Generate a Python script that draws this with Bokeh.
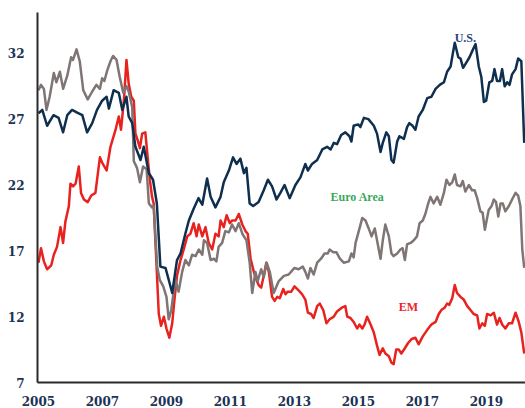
from bokeh.plotting import figure
from bokeh.models import Range1d, FixedTicker, ColumnDataSource
from bokeh.core.properties import value
from bokeh.embed import file_html
from bokeh.resources import INLINE

# ---- data (decimal years, value) ----
us_t = [2005.00, 2005.12, 2005.27, 2005.47, 2005.63, 2005.77, 2005.90, 2006.05, 2006.21, 2006.37,
        2006.52, 2006.68, 2006.83, 2006.99, 2007.13, 2007.20, 2007.35, 2007.51, 2007.62, 2007.75,
        2007.82, 2007.93, 2008.03, 2008.19, 2008.29, 2008.45, 2008.58, 2008.70, 2008.78, 2008.81,
        2008.97, 2009.07, 2009.18, 2009.33, 2009.44, 2009.59, 2009.70, 2009.85, 2010.00, 2010.12,
        2010.27, 2010.38, 2010.53, 2010.69, 2010.79, 2010.95, 2011.08, 2011.19, 2011.31, 2011.42,
        2011.50, 2011.60, 2011.71, 2011.88, 2012.04, 2012.17, 2012.30, 2012.44, 2012.56, 2012.69,
        2012.85, 2013.03, 2013.19, 2013.34, 2013.42, 2013.55, 2013.71, 2013.87, 2014.02, 2014.13,
        2014.23, 2014.33, 2014.46, 2014.59, 2014.72, 2014.78, 2014.85, 2014.99, 2015.06, 2015.17,
        2015.31, 2015.48, 2015.58, 2015.69, 2015.76, 2015.87, 2015.95, 2016.03, 2016.10, 2016.21,
        2016.28, 2016.42, 2016.52, 2016.59, 2016.69, 2016.78, 2016.88, 2017.01, 2017.15, 2017.28,
        2017.41, 2017.54, 2017.67, 2017.77, 2017.88, 2017.95, 2018.01, 2018.12, 2018.19, 2018.27,
        2018.37, 2018.47, 2018.58, 2018.66, 2018.76, 2018.84, 2018.92, 2018.99, 2019.09, 2019.18,
        2019.25, 2019.33, 2019.42, 2019.49, 2019.57, 2019.65, 2019.72, 2019.80, 2019.91, 2019.99,
        2020.09, 2020.18]
us_v = [27.45, 27.7, 26.5, 27.3, 27.1, 26.0, 27.3, 27.7, 27.5, 27.3,
        26.0, 26.7, 27.7, 28.4, 28.7, 27.8, 29.2, 29.0, 27.7, 28.7,
        27.2, 26.7, 24.9, 23.9, 24.9, 22.9, 22.4, 20.6, 17.1, 15.8,
        15.7, 14.8, 13.8, 16.3, 16.8, 18.3, 19.3, 20.2, 21.0, 20.5,
        22.5, 21.1, 20.3, 21.1, 22.2, 23.1, 24.1, 23.6, 24.0, 22.9,
        23.3, 20.6, 20.4, 20.7, 21.6, 22.4, 21.9, 20.9, 21.4, 22.0,
        21.0, 22.0, 22.6, 23.6, 23.1, 23.6, 23.9, 24.7, 24.9, 24.7,
        25.2, 25.1, 25.8, 26.0, 25.7, 25.3, 26.5, 26.6, 26.4, 27.1,
        27.0, 26.5, 25.9, 24.5, 25.2, 26.0, 25.7, 23.9, 23.7, 25.3,
        25.7, 25.5, 26.4, 26.7, 26.5, 26.2, 27.2, 27.7, 28.6, 28.7,
        29.3, 29.6, 29.8, 30.6, 31.0, 32.0, 32.8, 31.7, 31.6, 30.9,
        31.3, 31.7, 32.3, 32.7, 31.0, 30.2, 28.3, 28.4, 29.8, 29.9,
        30.8, 29.9, 29.9, 30.8, 29.5, 29.8, 29.6, 30.4, 30.8, 31.6,
        31.4, 25.2]

euro_t = [2005.00, 2005.08, 2005.17, 2005.25, 2005.35, 2005.48, 2005.56, 2005.67, 2005.77, 2005.90,
          2006.02, 2006.08, 2006.19, 2006.29, 2006.40, 2006.54, 2006.68, 2006.81, 2006.92, 2006.99,
          2007.06, 2007.15, 2007.25, 2007.33, 2007.44, 2007.54, 2007.65, 2007.75, 2007.82, 2007.93,
          2007.98, 2008.08, 2008.17, 2008.27, 2008.38, 2008.45, 2008.55, 2008.60, 2008.71, 2008.79,
          2008.90, 2009.00, 2009.07, 2009.15, 2009.23, 2009.28, 2009.38, 2009.49, 2009.59, 2009.70,
          2009.80, 2009.91, 2010.01, 2010.12, 2010.17, 2010.27, 2010.38, 2010.48, 2010.56, 2010.63,
          2010.74, 2010.84, 2010.95, 2011.05, 2011.16, 2011.26, 2011.37, 2011.50, 2011.60, 2011.68,
          2011.78, 2011.85, 2011.96, 2012.04, 2012.13, 2012.23, 2012.35, 2012.51, 2012.67, 2012.82,
          2013.00, 2013.13, 2013.26, 2013.34, 2013.42, 2013.50, 2013.60, 2013.71, 2013.83, 2013.94,
          2014.04, 2014.10, 2014.21, 2014.31, 2014.42, 2014.54, 2014.70, 2014.78, 2014.85, 2014.91,
          2015.01, 2015.12, 2015.22, 2015.32, 2015.41, 2015.51, 2015.58, 2015.69, 2015.76, 2015.84,
          2015.95, 2016.03, 2016.10, 2016.21, 2016.31, 2016.38, 2016.45, 2016.52, 2016.63, 2016.73,
          2016.83, 2016.91, 2017.01, 2017.09, 2017.18, 2017.25, 2017.35, 2017.46, 2017.56, 2017.67,
          2017.75, 2017.84, 2017.93, 2018.01, 2018.08, 2018.19, 2018.26, 2018.34, 2018.45, 2018.55,
          2018.63, 2018.71, 2018.81, 2018.88, 2018.95, 2019.02, 2019.07, 2019.16, 2019.23, 2019.30,
          2019.37, 2019.44, 2019.51, 2019.59, 2019.70, 2019.80, 2019.91, 2019.99, 2020.06, 2020.12,
          2020.18]
euro_v = [29.2, 29.6, 29.3, 27.7, 28.7, 30.5, 29.8, 30.6, 29.3, 30.3,
          31.7, 31.5, 32.3, 31.4, 29.2, 28.5, 29.1, 29.6, 29.3, 30.1,
          29.9, 30.7, 31.4, 31.8, 31.5, 30.2, 29.0, 29.5, 29.1, 27.9,
          23.8, 23.3, 22.2, 23.4, 23.2, 20.6, 20.3, 20.4, 15.8, 14.8,
          14.3, 13.5, 11.8, 12.5, 14.0, 14.8, 13.9, 15.4, 16.3, 15.9,
          16.7, 16.6, 17.1, 16.7, 17.8, 17.6, 16.3, 16.4, 16.2, 17.3,
          17.6, 18.5, 18.4, 19.0, 18.5, 19.1, 18.3, 17.8, 16.1, 13.8,
          15.4, 14.7, 15.6, 15.0, 16.1, 15.4, 13.8, 14.7, 15.1, 15.2,
          15.7, 15.6, 15.8, 15.4, 14.9, 15.7, 15.2, 16.1, 16.4, 16.8,
          16.8, 17.1, 16.9, 16.9, 16.4, 16.1, 16.2, 16.8, 16.5, 17.6,
          18.5, 19.5, 19.3, 18.7, 18.1, 18.7, 17.8, 16.4, 17.8, 19.0,
          18.1, 16.8, 16.6, 16.8, 17.1, 17.2, 16.3, 17.5, 17.6, 17.8,
          18.1, 19.1, 19.3, 19.8, 20.6, 21.1, 20.6, 21.1, 20.5, 21.4,
          22.4, 22.0, 22.2, 22.8, 22.0, 21.9, 22.3, 21.5, 22.0, 21.6,
          21.6, 21.0, 20.0, 19.9, 18.6, 19.5, 20.1, 20.4, 20.9, 20.7,
          19.6, 20.6, 20.6, 20.0, 20.4, 20.9, 21.4, 21.2, 20.4, 17.1,
          15.7]

em_t = [2005.00, 2005.08, 2005.17, 2005.27, 2005.40, 2005.48, 2005.58, 2005.69, 2005.77, 2005.84,
        2005.95, 2006.00, 2006.08, 2006.16, 2006.26, 2006.33, 2006.42, 2006.54, 2006.65, 2006.78,
        2006.92, 2006.99, 2007.13, 2007.25, 2007.41, 2007.51, 2007.58, 2007.67, 2007.75, 2007.82,
        2007.90, 2007.98, 2008.03, 2008.10, 2008.17, 2008.24, 2008.34, 2008.42, 2008.48, 2008.55,
        2008.60, 2008.76, 2008.83, 2008.92, 2009.00, 2009.09, 2009.18, 2009.25, 2009.33, 2009.44,
        2009.54, 2009.65, 2009.75, 2009.85, 2009.94, 2010.01, 2010.12, 2010.22, 2010.32, 2010.43,
        2010.53, 2010.63, 2010.69, 2010.79, 2010.88, 2010.98, 2011.05, 2011.16, 2011.26, 2011.37,
        2011.47, 2011.54, 2011.63, 2011.73, 2011.81, 2011.88, 2011.96, 2012.04, 2012.12, 2012.20,
        2012.30, 2012.38, 2012.46, 2012.54, 2012.65, 2012.72, 2012.79, 2012.90, 2013.00, 2013.13,
        2013.24, 2013.34, 2013.42, 2013.52, 2013.60, 2013.71, 2013.79, 2013.90, 2014.00, 2014.10,
        2014.23, 2014.33, 2014.49, 2014.59, 2014.65, 2014.75, 2014.85, 2014.96, 2015.03, 2015.12,
        2015.19, 2015.27, 2015.38, 2015.48, 2015.58, 2015.66, 2015.76, 2015.84, 2015.95, 2016.03,
        2016.10, 2016.18, 2016.26, 2016.34, 2016.45, 2016.55, 2016.66, 2016.78, 2016.88, 2017.01,
        2017.15, 2017.28, 2017.41, 2017.51, 2017.59, 2017.70, 2017.77, 2017.84, 2017.93, 2018.01,
        2018.08, 2018.19, 2018.29, 2018.40, 2018.50, 2018.60, 2018.71, 2018.78, 2018.87, 2018.95,
        2019.02, 2019.13, 2019.23, 2019.33, 2019.41, 2019.49, 2019.59, 2019.70, 2019.80, 2019.91,
        2020.01, 2020.09, 2020.18]
em_v = [16.1, 17.2, 16.2, 15.6, 15.9, 16.7, 17.3, 18.8, 17.6, 19.2,
        20.4, 22.1, 21.9, 22.1, 23.4, 21.4, 20.9, 20.7, 21.2, 21.4,
        24.1, 23.7, 23.1, 24.9, 26.2, 27.2, 26.2, 28.4, 31.5, 29.7,
        28.7, 28.4, 25.9, 25.4, 24.8, 25.9, 26.0, 23.9, 22.4, 21.1,
        20.6, 12.2, 11.3, 12.0, 11.1, 10.4, 11.5, 13.3, 15.1, 16.3,
        17.1, 18.1, 18.3, 19.1, 18.1, 19.0, 18.1, 18.8, 17.6, 17.1,
        18.3, 18.1, 19.3, 18.8, 19.7, 19.1, 19.3, 19.3, 19.8, 19.0,
        18.5, 18.3, 16.4, 15.4, 14.8, 14.4, 14.2, 15.1, 16.1, 15.4,
        13.5, 13.2, 13.5, 13.4, 14.1, 13.7, 13.9, 13.9, 14.3, 14.0,
        13.7, 13.3, 12.3, 12.2, 11.9, 12.8, 13.0, 12.5, 11.5, 11.8,
        12.0, 12.4, 12.7, 12.8, 12.0, 11.9, 11.6, 11.1, 11.4, 11.1,
        11.4, 12.0, 11.4, 10.8, 9.8, 9.1, 9.6, 9.2, 9.0, 8.5,
        8.4, 9.5, 9.5, 9.2, 9.6, 10.0, 10.3, 10.4, 9.9, 10.5,
        11.0, 11.4, 11.6, 12.2, 12.5, 12.7, 13.0, 12.9, 13.4, 14.4,
        13.8, 13.5, 13.3, 12.8, 12.5, 12.2, 12.1, 11.1, 11.5, 11.3,
        12.2, 12.1, 12.3, 11.4, 11.9, 11.4, 11.1, 11.5, 11.5, 12.3,
        11.6, 10.8, 9.2]

y_ticks = [7, 12, 17, 22, 27, 32]
x_ticks = [2005, 2007, 2009, 2011, 2013, 2015, 2017, 2019]

label_text = ["U.S.", "Euro Area", "EM"]
label_t = [2018.34, 2014.97, 2016.56]
label_v = [33.2, 21.1, 12.7]
label_color = ["#26447f", "#3aa85a", "#e8262a"]

# ---- figure ----
p = figure(width=525, height=408, output_backend="svg", toolbar_location=None,
           x_range=Range1d(2004.97, 2020.22), y_range=Range1d(7, 35.1),
           min_border_left=37, min_border_right=0, min_border_top=12, min_border_bottom=24)
p.outline_line_color = None
p.xgrid.visible = False
p.ygrid.visible = False
p.background_fill_color = "white"

C_US = "#0e2f4e"
C_EU = "#7f7575"
C_EM = "#e8231f"

p.line(em_t, em_v, line_color=C_EM, line_width=2.5, line_join="round")
p.line(euro_t, euro_v, line_color=C_EU, line_width=2.5, line_join="round")
p.line(us_t, us_v, line_color=C_US, line_width=2.5, line_join="round")

src = ColumnDataSource(dict(x=label_t, y=label_v, t=label_text, c=label_color))
p.text(x="x", y="y", text="t", text_color="c", source=src,
       text_font=value("Liberation Serif"), text_font_style="bold",
       text_font_size="12px", text_align="center", text_baseline="middle")

tick_color = "#1b3455"
for ax in (p.xaxis[0], p.yaxis[0]):
    ax.major_tick_line_color = None
    ax.minor_tick_line_color = None
    ax.major_tick_out = 0
    ax.major_tick_in = 0
    ax.axis_line_color = "#2a2a2a"
    ax.axis_line_width = 2
    ax.major_label_text_font = "DejaVu Serif"
    ax.major_label_text_font_style = "bold"
    ax.major_label_text_font_size = "12px"
    ax.major_label_text_color = tick_color

p.yaxis[0].ticker = FixedTicker(ticks=y_ticks)
p.xaxis[0].ticker = FixedTicker(ticks=x_ticks)
p.yaxis[0].major_label_standoff = 13
p.xaxis[0].major_label_standoff = 13
p.xaxis[0].formatter.use_scientific = False

open("out.html", "w").write(file_html(p, INLINE))
